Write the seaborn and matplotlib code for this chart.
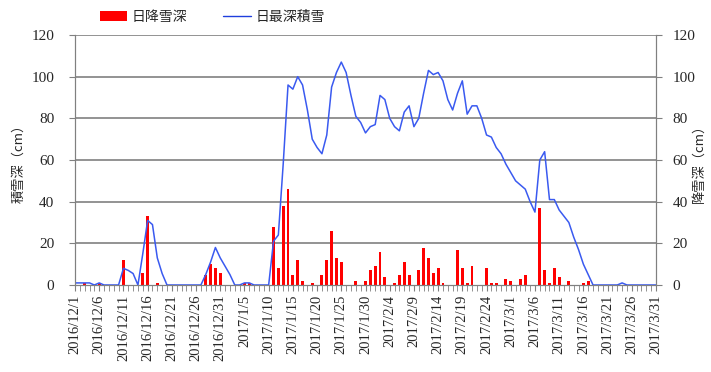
import numpy as np
import pandas as pd
import seaborn as sns
import matplotlib.pyplot as plt
from matplotlib.patches import Patch
from matplotlib.lines import Line2D
from matplotlib.ticker import MultipleLocator, FixedLocator

# Daily values, 2016/12/1 - 2017/3/31
dates = pd.date_range('2016-12-01', '2017-03-31', freq='D')

# 日最深積雪 (cm)
depth = [1, 1, 1, 1, 0, 1, 0, 0, 0, 0,
         8, 7, 5.5, 0, 15, 31, 29, 13, 5.5, 0,
         0, 0, 0, 0, 0, 0, 0, 5, 11, 18,
         13, 9, 5, 0, 0, 1, 1, 0, 0, 0,
         0, 21, 24, 58, 96, 94, 100, 96, 84, 70,
         66, 63, 72, 95, 102, 107, 102, 91, 81, 78,
         73, 76, 77, 91, 89, 80, 76, 74, 83, 86,
         76, 80, 92, 103, 101, 102, 98, 89, 84, 92,
         98, 82, 86, 86, 80, 72, 71, 66, 63, 58,
         54, 50, 48, 46, 40, 35, 60, 64, 41, 41,
         36, 33, 30, 23, 17, 10, 5, 0, 0, 0,
         0, 0, 0, 1, 0, 0, 0, 0, 0, 0,
         0]

# 日降雪深 (cm)
snowfall = [2, 0, 1, 0, 0, 1, 0, 0, 0, 0,
            12, 0, 0, 0, 6, 33, 0, 1, 0, 0,
            0, 0, 0, 0, 0, 0, 0, 5, 10, 8,
            6, 0, 0, 0, 0, 1, 1, 0, 0, 0,
            0, 28, 8, 38, 46, 5, 12, 2, 0, 1,
            0, 5, 12, 26, 13, 11, 0, 0, 2, 0,
            2, 7, 9, 16, 4, 0, 1, 5, 11, 5,
            0, 7, 18, 13, 6, 8, 1, 0, 0, 17,
            8, 1, 9, 0, 0, 8, 1, 1, 0, 3,
            2, 0, 3, 5, 0, 0, 37, 7, 1, 8,
            4, 0, 2, 0, 0, 1, 2, 0, 0, 0,
            0, 0, 0, 0, 0, 0, 0, 0, 0, 0,
            0]

df = pd.DataFrame({'day': np.arange(len(dates)), 'depth': depth, 'snowfall': snowfall})
date_labels = [f'{d.year}/{d.month}/{d.day}' for d in dates]

sns.set_style('white')
plt.rcParams['font.family'] = ['Liberation Serif', 'Noto Sans CJK JP']
jp = ['Noto Sans CJK JP', 'DejaVu Sans']
grey = '#808080'

fig = plt.figure(figsize=(7.11, 3.72), dpi=100)
ax = fig.add_axes([75/711, 1-285/372, 581/711, 250/372])
ax2 = ax.twinx()

# bars (right axis) drawn below the line (left axis)
sns.barplot(data=df, x='day', y='snowfall', native_scale=True, ax=ax2,
            color='#ff0000', width=0.6, saturation=1, linewidth=0)
sns.lineplot(data=df, x='day', y='depth', ax=ax, color='#3a5af0', lw=1.1)
ax.set_zorder(2)
ax.patch.set_visible(False)
ax2.set_zorder(1)

for a in (ax, ax2):
    a.set_ylim(0, 120)
    a.set_xlim(0, len(dates) - 1)
    a.yaxis.set_major_locator(MultipleLocator(20))
    for s in a.spines.values():
        s.set_color(grey)
    a.spines['top'].set_visible(False)

ax2.grid(False)
for yv in range(20, 121, 20):
    ax2.axhline(yv, color=grey, lw=1.2, zorder=0)

ax.set_xticks(range(0, len(dates), 5))
ax.set_xticklabels(date_labels[::5], rotation=90, fontsize=10.5)
ax.xaxis.set_minor_locator(FixedLocator(range(len(dates))))
ax.tick_params(axis='x', which='both', direction='out', length=4, color=grey,
               bottom=True, pad=3)
ax.tick_params(axis='y', direction='out', length=4, color=grey, labelsize=11, pad=11, left=True)
ax2.tick_params(axis='y', direction='out', length=4, color=grey, labelsize=11, pad=8, right=True)

ax.set_xlabel('')
ax2.set_xlabel('')
ax.set_ylabel('積雪深（cm）', family=jp, fontsize=9.5)
ax2.set_ylabel('降雪深（cm）', family=jp, fontsize=9.5, rotation=90)
ax.yaxis.set_label_coords(-0.086, 0.5)
ax2.yaxis.set_label_coords(1.063, 0.5)

handles = [Patch(facecolor='#ff0000', edgecolor='none'),
           Line2D([0], [0], color='#1f3fdd', lw=1)]
fig.legend(handles, ['日降雪深', '日最深積雪'], loc='center',
           bbox_to_anchor=(212/711, 1-17/372), ncol=2, frameon=False,
           prop={'family': jp, 'size': 10}, handlelength=2.0,
           handletextpad=0.3, columnspacing=2.6)

fig.savefig('out.png', dpi=100)
plt.close(fig)
